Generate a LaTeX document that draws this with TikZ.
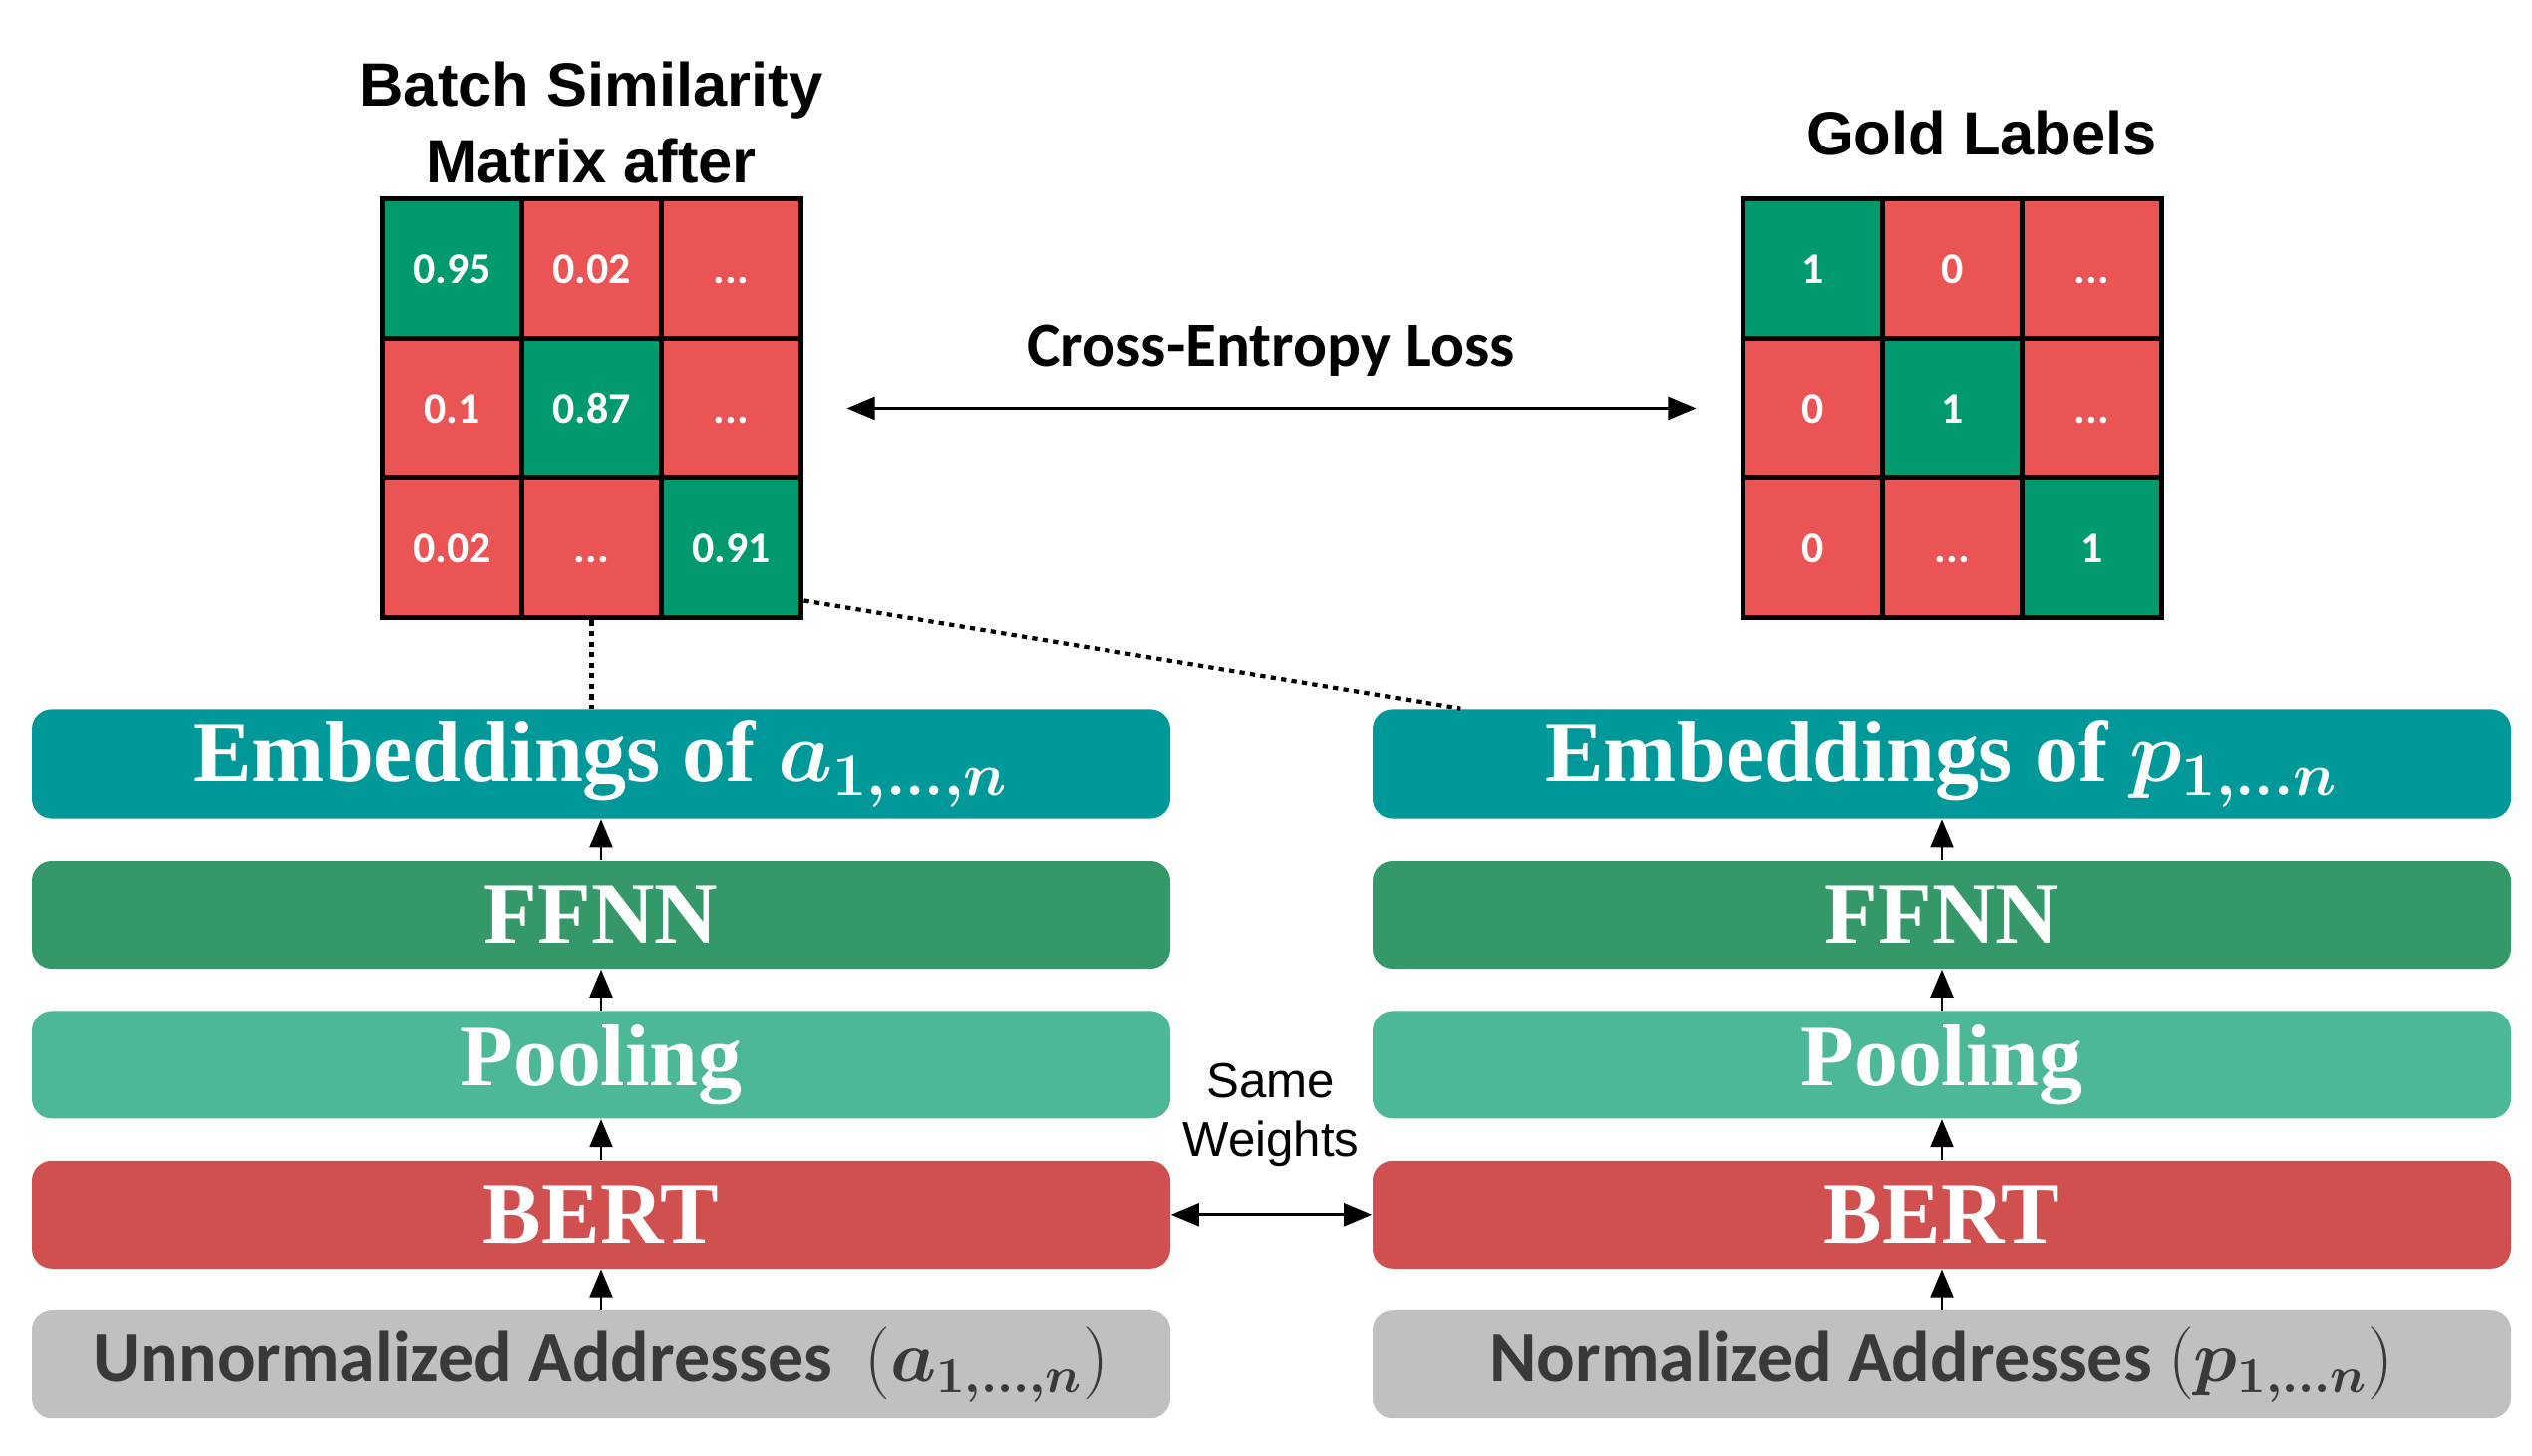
\documentclass[tikz,border=0pt]{standalone}
\usepackage{fontspec}
\setmainfont{Liberation Serif}
\newfontfamily\arialfont{Liberation Sans}
\newfontfamily\calfont{Carlito}
\usepackage{bm}
\usetikzlibrary{positioning,calc,matrix,arrows.meta}
\definecolor{embcol}{RGB}{0,152,152}
\definecolor{ffnncol}{RGB}{52,152,104}
\definecolor{poolcol}{RGB}{77,184,152}
\definecolor{bertcol}{RGB}{208,80,80}
\definecolor{addrcol}{RGB}{192,192,192}
\definecolor{addrtext}{RGB}{59,56,56}
\definecolor{cellgreen}{RGB}{0,154,110}
\definecolor{cellred}{RGB}{234,84,85}

\begin{document}
\begin{tikzpicture}[
  layer/.style={rounded corners=0.2cm, minimum width=11.42cm, minimum height=1.08cm,
    text=white, font=\fontsize{25}{30}\selectfont\bfseries},
  addr/.style={layer, fill=addrcol, text=addrtext,
    font=\fontsize{20.5}{24}\selectfont\calfont\bfseries},
  gcell/.style={fill=cellgreen},
  rcell/.style={fill=cellred},
  simmat/.style={matrix of nodes, inner sep=0pt,
    nodes={draw, line width=1.3pt, minimum size=1.4cm, text height=8.5pt, text depth=0pt,
      text=white, font=\fontsize{12.5}{15}\selectfont\calfont\bfseries},
    column sep=-1.3pt, row sep=-1.3pt},
  up/.style={-{Triangle[length=8pt,width=6.5pt]}, line width=0.8pt},
  both/.style={{Triangle[length=8pt,width=6.5pt]}-{Triangle[length=8pt,width=6.5pt]}, line width=0.8pt},
  heading/.style={font=\fontsize{17.5}{22}\selectfont\arialfont\bfseries, align=center},
  link/.style={dash pattern=on 1.5pt off 1.5pt, line width=1.2pt}
]
  \useasboundingbox (0,0) rectangle (25.4,14.61);

  % similarity matrix and gold labels
  \matrix[simmat] (matA) at (5.935,10.515) {
    |[gcell]| 0.95 & |[rcell]| 0.02 & |[rcell]| ... \\
    |[rcell]| 0.1  & |[gcell]| 0.87 & |[rcell]| ... \\
    |[rcell]| 0.02 & |[rcell]| ...  & |[gcell]| 0.91 \\
  };
  \matrix[simmat] (matG) at (19.585,10.515) {
    |[gcell]| 1 & |[rcell]| 0   & |[rcell]| ... \\
    |[rcell]| 0 & |[gcell]| 1   & |[rcell]| ... \\
    |[rcell]| 0 & |[rcell]| ... & |[gcell]| 1 \\
  };
  \node[heading] (simtitle) at (5.93,13.38) {Batch Similarity\\Matrix after};
  \node[heading] (goldtitle) at (19.88,13.27) {Gold Labels};

  \draw[both, shorten <=0.43cm, shorten >=0.44cm] (matA) -- (matG);
  \node[font=\fontsize{18}{22}\selectfont\calfont\bfseries] (celoss) at (12.75,11.09) {Cross-Entropy Loss};

  % left tower
  \node[layer, fill=embcol] (embA) at (6.03,6.945) {Embeddings of $\bm{a}_{\bm{1,\dots,n}}$};
  \node[layer, fill=ffnncol, below=0.41cm of embA] (ffnnA) {FFNN};
  \node[layer, fill=poolcol, below=0.41cm of ffnnA] (poolA) {Pooling};
  \node[layer, fill=bertcol, below=0.41cm of poolA] (bertA) {BERT};
  \node[addr, below=0.41cm of bertA] (addrA) {Unnormalized Addresses\ \ $\Big(\bm{a}_{\bm{1,\dots,n}}\Big)$};

  % right tower
  \node[layer, fill=embcol] (embP) at (19.48,6.945) {Embeddings of $\bm{p}_{\bm{1,\dots n}}$};
  \node[layer, fill=ffnncol, below=0.41cm of embP] (ffnnP) {FFNN};
  \node[layer, fill=poolcol, below=0.41cm of ffnnP] (poolP) {Pooling};
  \node[layer, fill=bertcol, below=0.41cm of poolP] (bertP) {BERT};
  \node[addr, below=0.41cm of bertP] (addrP) {Normalized Addresses $(\bm{p}_{\bm{1,\dots n}})$};

  \foreach \s in {A,P} {
    \draw[up] (addr\s) -- (bert\s);
    \draw[up] (bert\s) -- (pool\s);
    \draw[up] (pool\s) -- (ffnn\s);
    \draw[up] (ffnn\s) -- (emb\s);
  }

  \draw[both] (bertA) -- (bertP);
  \node[font=\fontsize{14}{17}\selectfont\arialfont, align=center] (samew) at (12.75,3.42) {Same\\Weights};

  % dotted links to the matrix
  \draw[link] (matA.south) -- (matA.south |- embA.north);
  \draw[link] ($(matA.south east)+(0,0.2)$) -- ($(embP.north west)+(0.89,0)$);
\end{tikzpicture}
\end{document}
